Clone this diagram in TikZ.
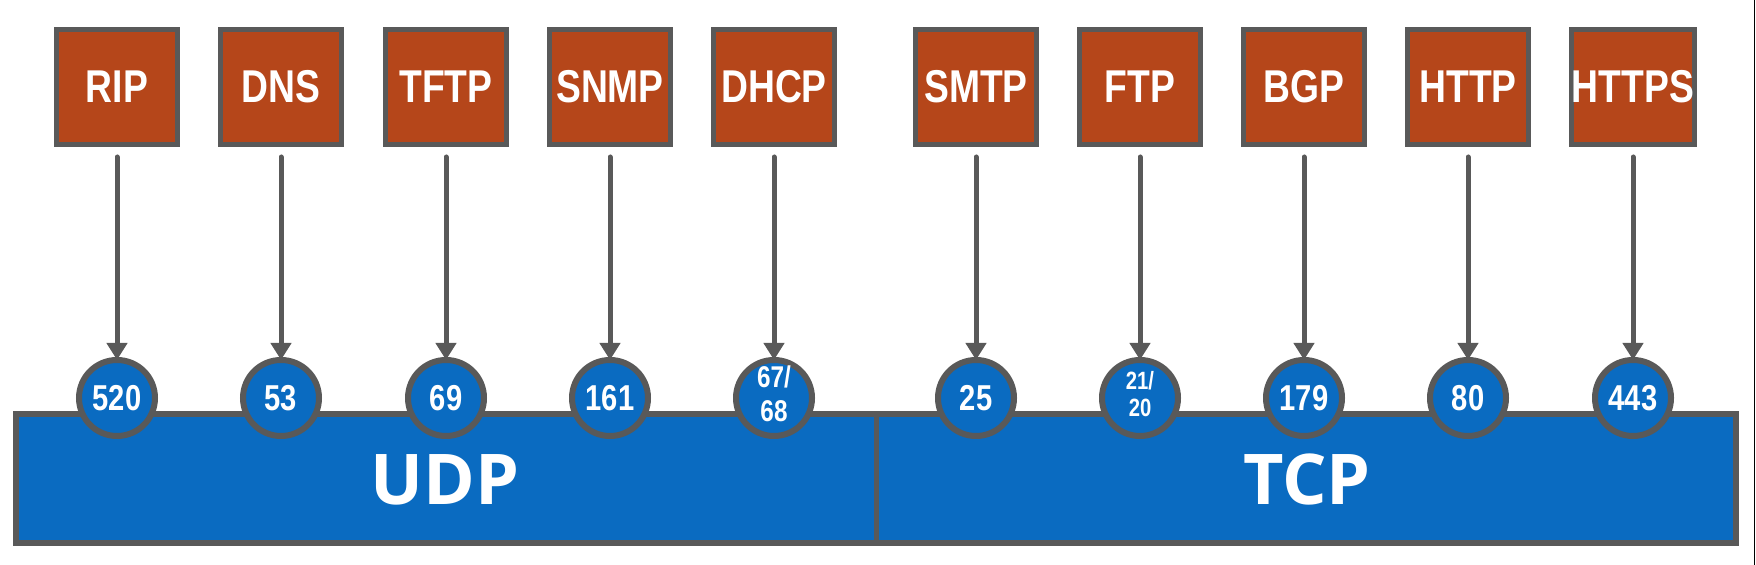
\documentclass[tikz,border=0pt]{standalone}
\usepackage{fontspec}
\usetikzlibrary{arrows.meta}
\newfontfamily\narrowfont{Liberation Sans}[FakeStretch=0.81]
\newfontfamily\widefont{Open Sans}
\definecolor{rust}{HTML}{B5461A}
\definecolor{wire}{HTML}{595959}
\definecolor{tblue}{HTML}{0A6BC1}
\newcommand\portpair[4]{\fontsize{#1}{#2}\selectfont\begin{tabular}{@{}c@{}}#3\\#4\end{tabular}}
\begin{document}
\begin{tikzpicture}[x=0.5pt, y=-0.5pt,
  proto/.style={draw=wire, line width=2.5pt, fill=rust, minimum width=60.5pt, minimum height=57.5pt,
    inner sep=0pt, text=white, font=\narrowfont\bfseries\fontsize{23}{23}\selectfont},
  port/.style={circle, draw=wire, line width=3pt, fill=tblue, minimum size=38pt, inner sep=0pt,
    text=white, font=\narrowfont\bfseries\fontsize{18}{18}\selectfont},
  layer/.style={text=white, font=\widefont\bfseries\fontsize{35}{35}\selectfont},
  feed/.style={wire, line width=2.5pt, line cap=round, -{Triangle[length=8.5pt, width=10pt]},
    shorten <=5pt, shorten >=-1.5pt}]
\useasboundingbox (0,0) rectangle (1756,565);
\fill[white] (0,0) rectangle (1756,565);
\draw[black, line width=0.6pt] (1754.5,0) -- (1754.5,565);
% transport layer
\draw[wire, line width=3pt, fill=tblue] (16,414) rectangle (1736,543);
\draw[wire, line width=2.5pt] (876,414) -- (876,543);
\node[layer] (udp) at (445,480) {UDP};
\node[layer] (tcp) at (1307,480) {TCP};
% applications and their ports
\foreach \x/\name/\num [count=\i] in {117/RIP/520, 281/DNS/53, 446/TFTP/69, 610/SNMP/161,
    774/DHCP/{\portpair{15}{17}{67/}{68}}, 976/SMTP/25, 1140/FTP/{\portpair{12.5}{13.5}{21/}{20}},
    1304/BGP/179, 1468/HTTP/80, 1633/HTTPS/443}{
  \node[proto] (app\i) at (\x,87) {\name};
  \node[port] (port\i) at (\x,398) {\num};
  \draw[feed] (app\i) -- (port\i);
}
\end{tikzpicture}
\end{document}
